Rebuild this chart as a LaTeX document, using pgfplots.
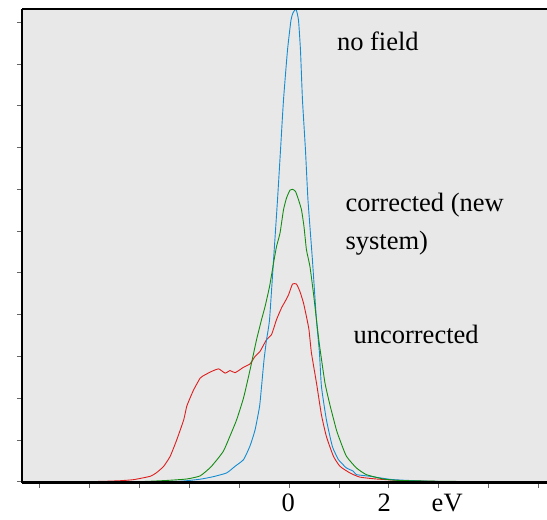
\documentclass[border=0pt]{standalone}
\usepackage{fontspec}
\setmainfont{Liberation Serif}
\usepackage{pgfplots}
\pgfplotsset{compat=1.18}
\usepackage{pgfplotstable}
\definecolor{bgc}{RGB}{232,232,232}
\definecolor{cblue}{RGB}{20,140,210}
\definecolor{cgreen}{RGB}{20,140,20}
\definecolor{cred}{RGB}{222,30,30}
\pgfplotstableread{
x y
-5.35 0
-3.0 0
-2.2 0.01
-1.78 0.06
-1.52 0.12
-1.25 0.21
-1.08 0.37
-0.91 0.53
-0.78 0.86
-0.68 1.24
-0.59 1.80
-0.55 2.28
-0.50 2.92
-0.45 3.40
-0.39 3.88
-0.31 5.30
-0.23 6.75
-0.17 7.94
-0.11 9.14
-0.03 10.33
0.04 11.05
0.08 11.22
0.14 11.31
0.19 11.05
0.23 10.33
0.27 9.14
0.33 7.94
0.38 6.75
0.47 5.30
0.55 3.88
0.61 3.09
0.65 2.28
0.75 1.48
0.87 0.84
0.99 0.53
1.05 0.45
1.15 0.33
1.29 0.25
1.35 0.17
1.62 0.13
2.08 0.05
2.82 0.01
3.5 0
5.17 0
}\blue
\pgfplotstableread{
x y
-5.35 0
-3.5 0
-2.92 0.005
-2.45 0.03
-2.05 0.065
-1.78 0.14
-1.56 0.36
-1.32 0.72
-1.18 1.10
-1.05 1.48
-0.91 2.01
-0.78 2.68
-0.65 3.40
-0.55 3.88
-0.48 4.19
-0.39 4.67
-0.31 5.23
-0.25 5.63
-0.18 5.95
-0.11 6.51
-0.05 6.79
0.02 6.98
0.07 7.00
0.13 6.95
0.19 6.75
0.25 6.51
0.30 6.11
0.35 5.55
0.42 5.15
0.49 4.51
0.55 3.88
0.61 3.28
0.72 2.37
0.82 1.84
0.95 1.24
1.02 1.00
1.15 0.61
1.35 0.33
1.55 0.17
1.89 0.065
2.22 0.03
3.22 0.007
5.17 0
}\green
\pgfplotstableread{
x y
-5.35 0
-4.4 0
-3.78 0.007
-3.38 0.024
-3.11 0.05
-2.78 0.13
-2.65 0.22
-2.51 0.37
-2.38 0.61
-2.25 1.00
-2.11 1.48
-2.05 1.80
-1.98 2.01
-1.91 2.20
-1.78 2.48
-1.68 2.56
-1.55 2.64
-1.41 2.70
-1.28 2.60
-1.18 2.66
-1.08 2.61
-0.91 2.74
-0.78 2.82
-0.68 3.00
-0.58 3.12
-0.45 3.40
-0.35 3.52
-0.25 3.88
-0.15 4.16
-0.08 4.31
-0.01 4.47
0.07 4.73
0.15 4.73
0.22 4.55
0.29 4.28
0.35 3.95
0.40 3.64
0.45 3.08
0.55 2.37
0.65 1.60
0.75 1.08
0.89 0.61
1.02 0.37
1.22 0.21
1.42 0.11
1.75 0.065
2.22 0.03
2.88 0.007
3.6 0
5.17 0
}\red
\begin{document}
\begin{tikzpicture}
\begin{axis}[
  scale only axis,
  width=525bp, height=473.5bp,
  xmin=-5.35, xmax=5.17,
  ymin=-0.024, ymax=11.31,
  axis background/.style={fill=bgc},
  axis line style={draw=none},
  xtick={-5,-4,-3,-2,-1,0,1,2,3,4,5},
  ytick={0,1,2,3,4,5,6,7,8,9,10,11},
  xticklabels={}, yticklabels={},
  xtick pos=bottom, ytick pos=left,
  tick align=outside,
  major tick length=5bp,
  tick style={color=black!60, line width=0.8bp},
  clip=false,
  font=\fontsize{26.5bp}{31bp}\selectfont,
]
\addplot[cred, line width=0.9bp, smooth, tension=0.3] table {\red};
\addplot[cblue, line width=0.9bp, smooth, tension=0.3] table {\blue};
\addplot[cgreen, line width=0.9bp, smooth, tension=0.3] table {\green};
\draw[black, line width=1.5bp] (rel axis cs:0,0) -- (rel axis cs:0,1);
\draw[black, line width=2.5bp] (rel axis cs:0,1) -- (rel axis cs:1,1);
\draw[black, line width=2.5bp] (rel axis cs:0,0) -- (rel axis cs:1,0);
\node[anchor=base west, inner sep=0] at (axis cs:0.958,10.31) {no field};
\node[anchor=base west, inner sep=0] at (axis cs:1.13,6.46) {corrected (new};
\node[anchor=base west, inner sep=0] at (axis cs:1.13,5.56) {system)};
\node[anchor=base west, inner sep=0] at (axis cs:1.29,3.31) {uncorrected};
\node[anchor=base, inner sep=0] at (axis cs:-0.014,-0.71) {0};
\node[anchor=base, inner sep=0] at (axis cs:1.91,-0.71) {2};
\node[anchor=base, inner sep=0] at (axis cs:3.17,-0.71) {eV};
\end{axis}
\pgfresetboundingbox
\useasboundingbox ([shift={(-22bp,-37bp)}]current axis.south west) rectangle ([shift={(0bp,9.2bp)}]current axis.north east);
\end{tikzpicture}
\end{document}
